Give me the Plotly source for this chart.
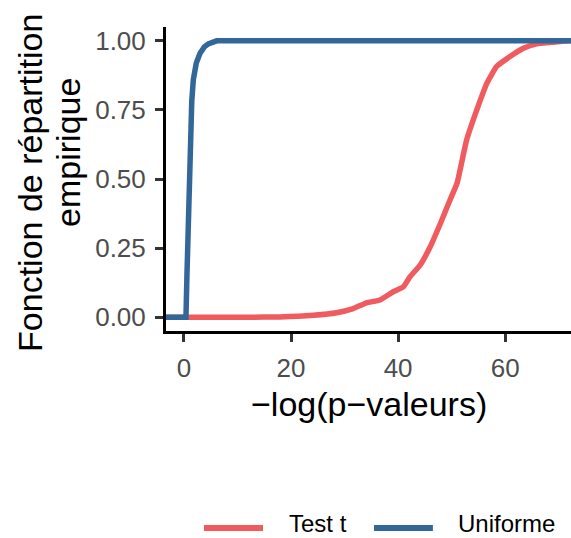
import plotly.graph_objects as go

# Empirical CDF of -log(p-values) for each method
test_t_x = [-10, 0.4, 12.0, 17.9, 24.2, 28.5, 31.6, 34.1, 36.6, 39.1, 41.0, 42.2, 44.1, 46.0,
            47.9, 49.7, 51.0, 52.8, 54.7, 56.6, 58.4, 60.9, 63.4, 65.9, 69.0, 72.0, 90]
test_t_y = [0.0, 0.0, 0.0, 0.001, 0.007, 0.016, 0.031, 0.052, 0.062, 0.092, 0.110, 0.146, 0.188, 0.255,
            0.339, 0.424, 0.484, 0.641, 0.750, 0.847, 0.907, 0.943, 0.973, 0.989, 0.995, 1.0, 1.0]

unif_x = [-10, 0.37, 0.55, 0.8, 1.12, 1.45, 1.74, 2.3, 3.0, 3.8, 4.55, 5.3, 6.1, 90]
unif_y = [0.0, 0.0, 0.15, 0.35, 0.653, 0.78, 0.859, 0.92, 0.955, 0.978, 0.989, 0.997, 1.0, 1.0]

series_names = ["Test t", "Uniforme"]
series_colors = ["#EF5B5F", "#33679A"]
series_shapes = ["spline", "linear"]

x_ticks = [0, 20, 40, 60]
y_ticks = [0.0, 0.25, 0.5, 0.75, 1.0]
y_tick_labels = ["0.00", "0.25", "0.50", "0.75", "1.00"]

FONT = "Liberation Sans, Arial, sans-serif"

fig = go.Figure()
for xs, ys, name, col, shp in zip([test_t_x, unif_x], [test_t_y, unif_y], series_names,
                                  series_colors, series_shapes):
    line = dict(color=col, width=5.5, shape=shp)
    if shp == "spline":
        line["smoothing"] = 0.4
    fig.add_trace(go.Scatter(x=xs, y=ys, mode="lines", name=name, line=line, showlegend=False))

axis_common = dict(showgrid=False, zeroline=False, showline=True, linecolor="black", linewidth=3,
                   ticks="outside", ticklen=8, tickwidth=3, tickcolor="#333333",
                   ticklabelstandoff=4,
                   tickfont=dict(family=FONT, size=26, color="#4D4D4D"))

fig.update_layout(
    width=571, height=538,
    margin=dict(l=166, r=0, t=27, b=207),
    paper_bgcolor="white", plot_bgcolor="white",
    font=dict(family=FONT),
    xaxis=dict(range=[-3.36, 72.3], tickvals=x_ticks, **axis_common),
    yaxis=dict(range=[-0.05, 1.05], tickvals=y_ticks, ticktext=y_tick_labels, **axis_common),
)

# Axis titles
fig.add_annotation(text="\u2212log(p\u2212valeurs)", xref="paper", yref="paper", x=0.5, y=-0.24,
                   xanchor="center", yanchor="middle", showarrow=False,
                   font=dict(family=FONT, size=34, color="black"))
fig.add_annotation(text="Fonction de répartition", xref="paper", yref="paper", x=-0.3358, y=0.487,
                   xanchor="center", yanchor="middle", textangle=-90, showarrow=False,
                   font=dict(family=FONT, size=34, color="black"))
fig.add_annotation(text="empirique", xref="paper", yref="paper", x=-0.242, y=0.589,
                   xanchor="center", yanchor="middle", textangle=-90, showarrow=False,
                   font=dict(family=FONT, size=34, color="black"))

# Legend drawn below the panel
key_y = -0.648
label_y = -0.632
legend_items = [(0.0938, 0.2395, 0.301), (0.5136, 0.659, 0.7185)]
for (x0, x1, tx), name, col in zip(legend_items, series_names, series_colors):
    fig.add_shape(type="line", xref="paper", yref="paper", x0=x0, x1=x1, y0=key_y, y1=key_y,
                  line=dict(color=col, width=6))
    fig.add_annotation(text=name, xref="paper", yref="paper", x=tx, y=label_y,
                       xanchor="left", yanchor="middle", showarrow=False,
                       borderpad=0, font=dict(family=FONT, size=24, color="black"))

fig.write_html("out.html")
